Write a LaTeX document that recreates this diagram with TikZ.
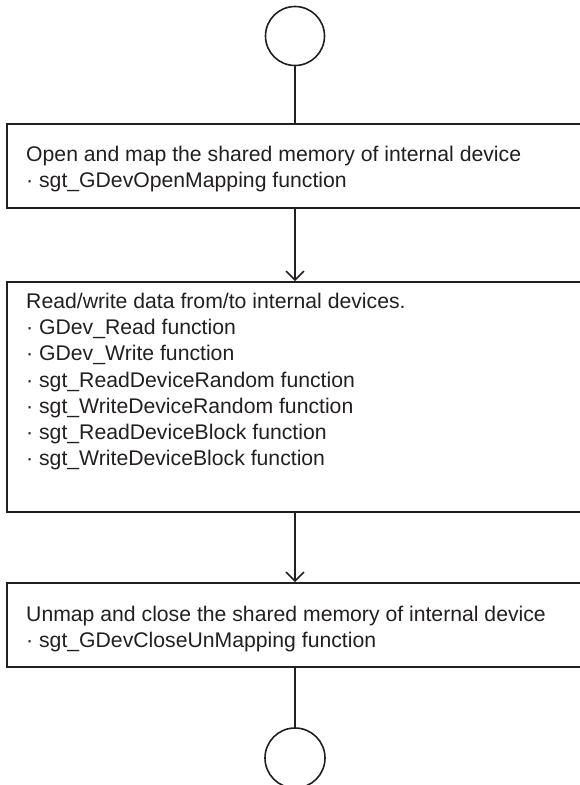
\documentclass[tikz,border=0pt]{standalone}
\usepackage{fontspec}
\setmainfont{Liberation Sans}
\usetikzlibrary{arrows.meta}
\definecolor{ink}{HTML}{231F20}
\tikzset{
  boxshape/.style={draw=ink, line width=1.6pt, rectangle, inner sep=0pt},
  term/.style={draw=ink, line width=1.6pt, circle, inner sep=0pt, minimum size=59pt},
  txt/.style={anchor=north west, inner sep=0pt, align=left, text=ink,
    font=\fontsize{21.2}{26.2}\selectfont},
  conn/.style={draw=ink, line width=1.6pt},
  arr/.style={conn, -{Straight Barb[length=9pt,width=18pt,line width=1.6pt]}}
}
\begin{document}
\begin{tikzpicture}[x=1pt,y=-1pt]
\useasboundingbox (0,0) rectangle (580,785);
\clip (0,0) rectangle (580,785);
\node[term] (start) at (295,36) {};
\node[boxshape, minimum width=583pt, minimum height=84pt] (b1) at (298.5,166) {};
\node[boxshape, minimum width=583pt, minimum height=230pt] (b2) at (298.5,397) {};
\node[boxshape, minimum width=583pt, minimum height=84pt] (b3) at (298.5,625) {};
\node[term, minimum size=60pt] (stop) at (295,758) {};
\node[txt] (t1) at (26,146) {Open and map the shared memory of internal device\\· sgt\_GDevOpenMapping function};
\node[txt] (t2) at (26,293) {Read/write data from/to internal devices.\\· GDev\_Read function\\· GDev\_Write function\\· sgt\_ReadDeviceRandom function\\· sgt\_WriteDeviceRandom function\\· sgt\_ReadDeviceBlock function\\· sgt\_WriteDeviceBlock function};
\node[txt] (t3) at (26,606) {Unmap and close the shared memory of internal device\\· sgt\_GDevCloseUnMapping function};
\draw[conn] (start.south) -- (start.south |- b1.north);
\draw[arr] (start.south |- b1.south) -- (start.south |- b2.north);
\draw[arr] (start.south |- b2.south) -- (start.south |- b3.north);
\draw[conn] (start.south |- b3.south) -- (stop.north);
\end{tikzpicture}
\end{document}
